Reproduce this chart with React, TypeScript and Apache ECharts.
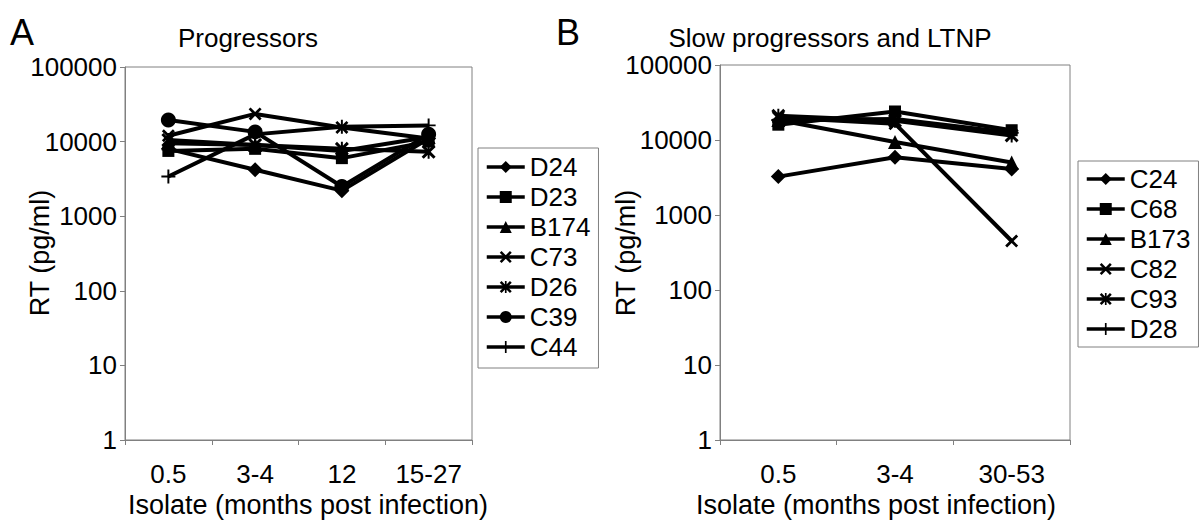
import React, { useEffect, useRef } from 'react';
import * as echarts from 'echarts';

const categoriesA = ['0.5', '3-4', '12', '15-27'];
const categoriesB = ['0.5', '3-4', '30-53'];

const namesA = ['D24', 'D23', 'B174', 'C73', 'D26', 'C39', 'C44'];
const D24 = [8000, 4200, 2200, 11000];
const D23 = [7500, 8000, 6000, 10000];
const B174 = [9500, 9000, 7500, 11500];
const C73 = [12000, 23500, 15500, 11000];
const D26 = [10500, 9000, 8000, 7300];
const C39 = [19500, 13500, 2500, 12500];
const C44 = [3400, 12500, 15800, 16500];
const valuesA = [D24, D23, B174, C73, D26, C39, C44];

const namesB = ['C24', 'C68', 'B173', 'C82', 'C93', 'D28'];
const C24 = [3250, 5900, 4100];
const C68 = [16000, 24000, 13500];
const B173 = [18500, 9400, 5000];
const C82 = [20000, 16500, 450];
const C93 = [21000, 18000, 11500];
const D28 = [18500, 19000, 12500];
const valuesB = [C24, C68, B173, C82, C93, D28];

const X_PATH = 'path://M0,1.5 L1.5,0 L5,3.5 L8.5,0 L10,1.5 L6.5,5 L10,8.5 L8.5,10 L5,6.5 L1.5,10 L0,8.5 L3.5,5 Z';
const STAR_PATH = X_PATH + ' M4.3,0 L5.7,0 L5.7,10 L4.3,10 Z';
const PLUS_PATH = 'path://M4.3,0 L5.7,0 L5.7,4.3 L10,4.3 L10,5.7 L5.7,5.7 L5.7,10 L4.3,10 L4.3,5.7 L0,5.7 L0,4.3 L4.3,4.3 Z';

const symbolsA = ['diamond', 'rect', 'triangle', X_PATH, STAR_PATH, 'circle', PLUS_PATH];
const sizesA = [15, 12, 14, 13, 14, 15, 14];
const symbolsB = ['diamond', 'rect', 'triangle', X_PATH, STAR_PATH, PLUS_PATH];
const sizesB = [15, 12, 14, 13, 14, 14];

const FONT = '"Liberation Sans", Arial, sans-serif';
const GRAY = '#808080';

function makeAxes(idx: number, cats: string[]) {
  const x = {
    type: 'category',
    gridIndex: idx,
    data: cats,
    boundaryGap: true,
    axisLine: { show: true, lineStyle: { color: GRAY, width: 1 } },
    axisTick: { show: true, length: 5, inside: false, lineStyle: { color: GRAY } },
    axisLabel: { color: '#000', fontSize: 26, fontFamily: FONT, margin: 21 },
    splitLine: { show: false },
  };
  const y = {
    type: 'log',
    gridIndex: idx,
    logBase: 10,
    min: 1,
    max: 100000,
    axisLine: { show: true, lineStyle: { color: GRAY, width: 1 } },
    axisTick: { show: true, length: 5, inside: false, lineStyle: { color: GRAY } },
    axisLabel: {
      color: '#000',
      fontSize: 26,
      fontFamily: FONT,
      margin: 8,
      formatter: (v: number) => String(Math.round(v)),
    },
    splitLine: { show: false },
    minorTick: { show: false },
  };
  return { x, y };
}

export default function App() {
  const ref = useRef<HTMLDivElement>(null);
  useEffect(() => {
    document.body.style.margin = '0';
    if (!ref.current) return;
    const chart = echarts.init(ref.current, undefined, { renderer: 'svg' });
    const a = makeAxes(0, categoriesA);
    const b = makeAxes(1, categoriesB);
    const series: any[] = [];
    namesA.forEach((n, i) => {
      series.push({
        type: 'line',
        name: n,
        data: valuesA[i],
        xAxisIndex: 0,
        yAxisIndex: 0,
        symbol: symbolsA[i],
        symbolSize: sizesA[i],
        showSymbol: true,
        lineStyle: { color: '#000', width: 4 },
        itemStyle: { color: '#000' },
      });
    });
    namesB.forEach((n, i) => {
      series.push({
        type: 'line',
        name: n,
        data: valuesB[i],
        xAxisIndex: 1,
        yAxisIndex: 1,
        symbol: symbolsB[i],
        symbolSize: sizesB[i],
        showSymbol: true,
        lineStyle: { color: '#000', width: 4 },
        itemStyle: { color: '#000' },
      });
    });
    const legendBase = {
      orient: 'vertical',
      borderColor: GRAY,
      borderWidth: 1,
      padding: [5, 8, 5, 7],
      itemGap: 4,
      itemWidth: 38,
      itemHeight: 15,
      lineStyle: { width: 3.5, color: '#000' },
      textStyle: { color: '#000', fontSize: 26, fontFamily: FONT },
      selectedMode: false,
    };
    const txt = (text: string, x: number, y: number, size: number, rot = 0) => ({
      type: 'text',
      x,
      y,
      rotation: rot,
      style: {
        text,
        fill: '#000',
        font: `${size}px ${FONT}`,
        textAlign: 'center',
        textVerticalAlign: 'middle',
      },
    });
    chart.setOption({
      animation: false,
      backgroundColor: '#fff',
      grid: [
        { left: 125, top: 67, width: 347, height: 373, show: true, borderColor: GRAY, borderWidth: 1 },
        { left: 720, top: 65, width: 350, height: 375, show: true, borderColor: GRAY, borderWidth: 1 },
      ],
      xAxis: [a.x, b.x],
      yAxis: [a.y, b.y],
      legend: [
        { ...legendBase, left: 478, top: 148, padding: [6, 8, 8, 7], data: namesA },
        { ...legendBase, left: 1078, top: 161, data: namesB },
      ],
      graphic: [
        txt('A', 22, 32, 36),
        txt('Progressors', 248, 38, 26),
        txt('B', 568, 32, 36),
        txt('Slow progressors and LTNP', 830, 38, 26),
        txt('RT (pg/ml)', 40, 253, 27, Math.PI / 2),
        txt('RT (pg/ml)', 626, 253, 27, Math.PI / 2),
        txt('Isolate (months post infection)', 308, 505, 27),
        txt('Isolate (months post infection)', 876, 505, 27),
      ],
      series,
    });
    return () => chart.dispose();
  }, []);
  return <div ref={ref} style={{ width: 1200, height: 524 }} />;
}
